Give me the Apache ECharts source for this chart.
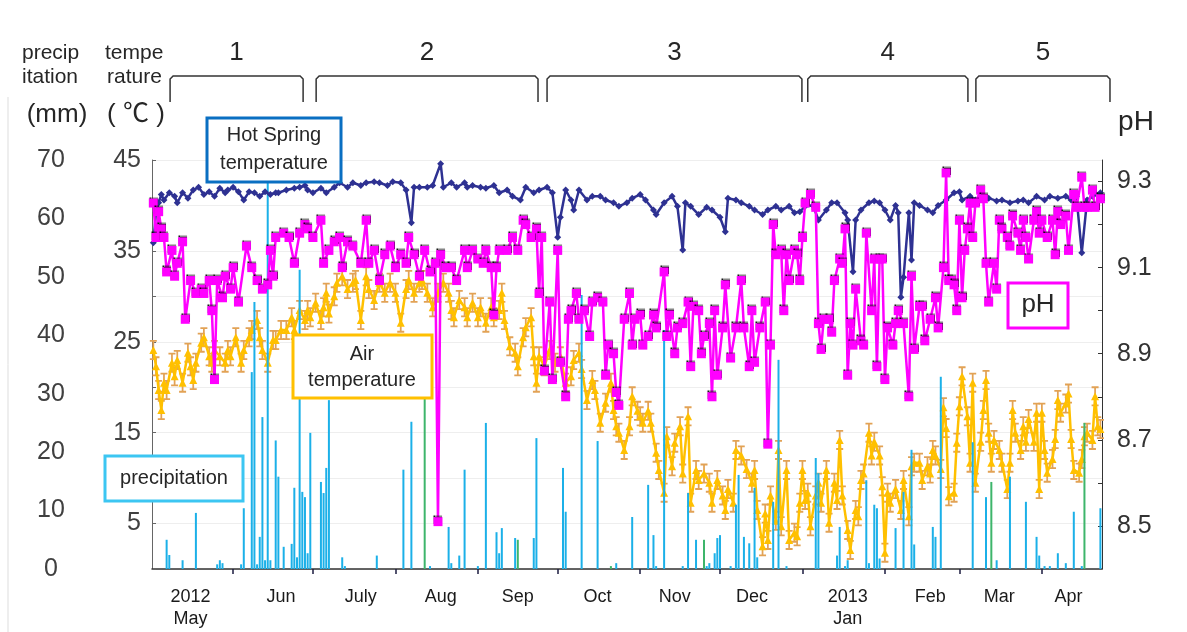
<!DOCTYPE html>
<html>
<head>
<meta charset="utf-8">
<title>Hot spring</title>
<script src="https://cdn.jsdelivr.net/npm/echarts@6/dist/echarts.min.js"></script>
<style>
  html, body { margin: 0; padding: 0; background: #fff; }
  #main { width: 1187px; height: 632px; }
</style>
</head>
<body>
<div id="main"></div>
<script>
// day index: 0 = 1 May 2012 (31 = 1 Jun 2012)
var monthStartDays = [31, 61, 92, 123, 153, 184, 214, 245, 276, 304, 335];
var monthLabelDays = [15, 49, 79, 109, 138, 168, 197, 226, 262, 293, 319, 345];
var monthLabels = ['2012\nMay', 'Jun', 'July', 'Aug', 'Sep', 'Oct', 'Nov', 'Dec', '2013\nJan', 'Feb', 'Mar', 'Apr'];

var periodNames = ['1', '2', '3', '4', '5'];
var periodRanges = [[7.3, 57.3], [62.2, 145.6], [149, 244.8], [247, 307.2], [310.2, 360.6]];

var phTicks = [8.5, 8.6, 8.7, 8.8, 8.9, 9.0, 9.1, 9.2, 9.3];
var phLabels = [8.5, 8.7, 8.9, 9.1, 9.3];

// hot spring temperature (°C)
var hotSpringTemp = [[1,35.9],[2,39.2],[3,40.3],[4,41.2],[5,40.6],[7,41.4],[9,41.0],[10,40.3],[12,41.4],[14,40.8],[16,41.7],[18,42.0],[20,41.2],[22,41.5],[24,41.0],[26,41.9],[28,41.4],[29,41.7],[31,42.0],[33,41.5],[35,40.6],[37,41.5],[39,41.4],[41,41.0],[43,41.5],[45,41.2],[47,41.4],[48,41.4],[51,41.7],[54,41.9],[56,42.0],[58,42.2],[59,41.7],[61,41.4],[64,41.9],[66,41.4],[69,42.0],[71,42.5],[74,42.0],[76,42.5],[79,42.2],[81,42.5],[84,42.6],[86,42.5],[89,42.2],[91,42.6],[94,42.5],[96,41.7],[98,38.1],[99,42.0],[101,42.0],[104,42.0],[106,42.2],[109,44.6],[110,42.0],[113,42.5],[115,42.0],[118,42.5],[119,42.0],[121,42.2],[124,42.0],[126,41.9],[129,42.2],[131,41.4],[134,41.7],[136,41.0],[139,40.6],[141,42.0],[144,41.4],[146,41.7],[149,42.0],[151,41.4],[153,36.5],[154,38.7],[156,41.7],[158,40.6],[159,39.5],[161,41.7],[164,40.6],[166,41.0],[169,41.0],[171,40.6],[174,40.3],[176,39.9],[179,40.3],[181,40.8],[184,41.2],[186,40.6],[189,39.5],[190,39.0],[193,40.3],[196,41.0],[198,39.9],[200,35.1],[201,40.3],[203,39.9],[206,39.0],[209,39.8],[211,39.5],[214,38.7],[216,37.1],[217,40.8],[220,40.6],[222,40.3],[225,39.9],[227,39.5],[230,39.0],[232,39.5],[235,39.9],[237,39.5],[240,39.9],[242,39.2],[244,39.3],[246,39.9],[249,40.0],[251,38.4],[254,39.5],[256,40.3],[258,40.3],[261,39.2],[262,38.4],[264,32.7],[265,38.4],[267,39.5],[270,40.3],[272,40.5],[274,40.3],[276,39.5],[278,38.4],[280,40.0],[281,39.2],[282,29.9],[283,32.1],[285,39.2],[286,34.0],[287,40.3],[289,40.0],[292,39.5],[294,39.2],[296,40.0],[299,40.6],[302,41.4],[304,41.5],[305,40.6],[308,41.0],[310,40.6],[313,41.0],[315,40.8],[318,40.5],[320,40.6],[323,40.3],[326,40.5],[328,40.6],[330,40.3],[333,41.0],[336,40.6],[338,41.0],[341,40.8],[344,41.0],[346,40.6],[348,41.0],[350,34.8],[352,40.6],[354,41.0],[357,41.4]];

// air temperature (°C) and its error half-width
var airTemp = [[1,24.1],[2,22.3],[3,19.7],[4,17.5],[5,20.5],[6,19.7],[8,22.7],[9,21.2],[10,23.0],[12,20.5],[14,23.8],[15,22.3],[16,20.8],[17,22.7],[19,24.9],[20,25.5],[22,23.4],[23,22.7],[24,24.1],[26,23.4],[28,22.7],[29,24.1],[30,23.4],[32,25.5],[34,22.7],[35,24.1],[37,25.5],[38,26.3],[40,27.4],[41,25.5],[42,24.1],[44,22.7],[46,25.2],[47,25.2],[49,26.3],[51,26.3],[53,27.7],[54,26.3],[56,28.5],[58,27.4],[59,28.5],[60,27.7],[62,29.3],[64,27.4],[65,28.8],[66,30.4],[67,28.1],[69,30.0],[70,31.5],[72,32.2],[74,30.8],[76,31.5],[77,31.8],[79,27.4],[81,32.2],[82,30.8],[84,29.6],[86,31.5],[88,30.4],[90,31.5],[92,30.4],[94,27.1],[96,30.8],[97,31.8],[99,30.4],[101,31.5],[102,31.8],[104,30.4],[106,28.8],[108,30.4],[110,31.5],[112,30.4],[113,28.5],[114,27.7],[116,29.6],[118,28.8],[119,27.7],[121,29.3],[123,27.7],[124,28.8],[126,27.1],[128,28.8],[129,27.7],[131,28.5],[132,30.4],[133,27.4],[135,24.5],[137,23.8],[138,22.3],[140,25.5],[141,26.6],[143,27.7],[144,23.4],[145,20.5],[146,23.4],[148,22.3],[150,24.1],[152,22.7],[154,23.4],[156,20.5],[158,21.2],[159,23.0],[161,23.8],[162,22.0],[164,18.6],[166,20.8],[167,19.7],[169,16.1],[171,18.3],[173,20.5],[174,17.5],[175,15.7],[176,15.0],[178,13.1],[180,15.7],[181,19.0],[183,17.4],[184,16.8],[185,16.1],[187,17.4],[188,16.1],[190,12.8],[191,10.9],[193,8.4],[194,14.6],[196,11.3],[197,13.9],[199,15.7],[200,10.5],[202,16.8],[203,7.3],[205,10.9],[206,9.8],[208,10.5],[210,9.5],[211,7.3],[213,9.8],[215,8.1],[216,6.5],[217,8.8],[219,7.3],[220,13.1],[222,12.5],[224,11.0],[226,9.5],[227,10.9],[228,6.5],[230,2.5],[231,6.1],[232,3.2],[233,8.1],[235,5.3],[236,13.1],[237,4.7],[239,10.9],[240,3.2],[242,4.0],[243,3.6],[244,7.3],[245,10.9],[246,7.6],[247,8.4],[248,4.7],[250,8.1],[251,9.5],[252,7.3],[254,10.9],[255,5.1],[257,9.5],[258,7.6],[259,14.2],[260,8.1],[262,4.3],[263,2.1],[265,6.5],[266,5.8],[267,9.8],[268,10.5],[270,15.0],[271,12.5],[272,14.0],[274,12.5],[275,9.1],[276,1.8],[277,8.4],[278,7.3],[280,8.8],[282,6.5],[283,9.8],[285,5.8],[286,11.3],[287,11.7],[289,11.7],[290,9.8],[292,11.3],[293,10.5],[294,13.1],[295,12.5],[297,11.0],[298,17.8],[299,15.5],[300,8.0],[302,8.4],[303,13.9],[304,17.9],[305,21.2],[307,16.8],[308,11.7],[309,20.5],[310,9.5],[312,14.0],[313,17.5],[314,20.8],[315,15.0],[316,11.7],[317,14.2],[319,13.1],[320,11.7],[322,8.8],[323,11.7],[324,17.5],[325,15.0],[327,13.1],[328,15.7],[329,14.0],[330,16.5],[332,14.0],[333,17.2],[334,8.8],[335,17.2],[336,13.1],[337,10.6],[339,12.1],[340,14.3],[341,18.6],[342,17.2],[344,18.2],[345,19.3],[346,14.3],[347,10.9],[349,10.6],[350,12.1],[351,14.6],[352,15.0],[354,14.2],[355,19.0],[356,15.7],[357,15.4]];

// pH
var phValues = [[1,9.25],[2,9.17],[3,9.23],[4,9.19],[5,9.17],[6,9.09],[8,9.14],[9,9.08],[10,9.11],[12,9.16],[13,8.98],[15,9.07],[17,9.04],[19,9.05],[20,9.04],[22,9.07],[23,9.00],[24,8.84],[25,9.07],[27,9.03],[28,9.08],[30,9.05],[31,9.10],[33,9.02],[36,9.15],[38,9.10],[40,9.07],[42,9.05],[44,9.06],[45,9.14],[46,9.08],[47,9.17],[50,9.18],[52,9.17],[54,9.11],[56,9.18],[58,9.20],[59,9.19],[61,9.17],[64,9.21],[65,9.11],[67,9.14],[69,9.16],[71,9.17],[72,9.10],[74,9.16],[76,9.15],[79,9.11],[81,9.21],[82,9.11],[84,9.14],[86,9.07],[88,9.13],[90,9.15],[92,9.10],[94,9.13],[96,9.11],[97,9.17],[99,9.13],[101,9.08],[103,9.14],[105,9.09],[107,9.11],[108,8.51],[109,9.13],[111,9.10],[113,9.10],[115,9.07],[118,9.14],[119,9.10],[121,9.14],[123,9.12],[125,9.11],[126,9.14],[128,9.10],[129,8.99],[130,9.10],[131,9.14],[134,9.14],[136,9.17],[138,9.14],[140,9.21],[141,9.20],[143,9.17],[145,9.19],[146,9.04],[147,9.17],[148,8.86],[150,9.02],[151,8.84],[153,9.14],[154,8.88],[156,8.80],[157,8.98],[158,9.00],[160,9.04],[161,8.98],[163,9.00],[165,8.94],[166,9.02],[168,9.03],[170,9.02],[171,8.85],[172,8.92],[174,8.90],[175,8.81],[176,8.78],[178,8.98],[180,9.04],[181,8.92],[182,8.98],[184,8.99],[185,8.92],[187,8.94],[189,8.99],[190,8.96],[193,9.09],[194,8.94],[195,8.99],[197,8.90],[198,8.96],[200,8.97],[202,9.02],[203,8.87],[204,9.01],[206,9.00],[207,8.90],[208,8.94],[210,8.97],[211,8.80],[212,9.00],[213,8.85],[215,8.96],[216,9.06],[218,8.89],[220,8.96],[222,9.07],[223,8.96],[225,8.87],[226,9.00],[227,8.88],[229,8.96],[231,9.02],[232,8.69],[233,8.92],[234,9.20],[235,9.13],[237,9.14],[238,9.00],[239,9.13],[240,9.07],[242,9.14],[243,9.13],[244,9.07],[245,9.17],[246,9.25],[248,9.27],[250,9.24],[251,8.97],[252,8.91],[253,8.98],[255,8.98],[256,8.95],[257,9.07],[259,9.12],[260,9.11],[261,9.19],[262,8.85],[263,8.97],[264,8.92],[265,9.05],[267,8.93],[268,8.92],[269,9.18],[271,9.00],[272,9.12],[273,8.87],[274,9.12],[275,9.12],[276,8.84],[277,8.96],[279,8.92],[280,8.97],[281,9.00],[283,8.97],[285,8.80],[286,9.08],[287,8.91],[289,9.01],[290,9.01],[291,8.93],[293,8.98],[295,9.03],[296,8.96],[298,9.10],[299,9.32],[300,9.07],[301,9.07],[302,9.06],[303,9.00],[304,9.21],[305,9.03],[306,9.14],[307,9.19],[308,9.25],[309,9.17],[310,9.25],[312,9.28],[313,9.26],[314,9.11],[315,9.02],[317,9.11],[318,9.05],[319,9.21],[320,9.19],[322,9.17],[323,9.15],[324,9.22],[326,9.18],[327,9.14],[328,9.21],[329,9.17],[330,9.12],[332,9.21],[333,9.23],[334,9.18],[335,9.21],[337,9.17],[339,9.21],[340,9.13],[341,9.23],[342,9.20],[344,9.22],[345,9.14],[347,9.27],[348,9.24],[350,9.31],[351,9.24],[352,9.24],[354,9.28],[355,9.24],[357,9.26]];

// precipitation (mm)
var precipBlue = [[6,5.0],[7,2.4],[12,1.5],[17,9.6],[25,0.8],[26,1.5],[27,1.0],[34,0.8],[35,10.4],[38,33.7],[39,45.7],[40,0.8],[41,5.5],[42,26.0],[43,1.5],[44,70],[45,1.5],[47,22.0],[48,15.8],[50,3.8],[53,4.3],[54,13.9],[55,2.0],[56,51.2],[57,13.2],[58,12.3],[59,2.7],[60,23.3],[64,14.9],[65,13.0],[66,17.3],[67,28.9],[72,2.0],[73,0.5],[85,2.3],[95,17.0],[98,25.2],[105,0.5],[112,7.2],[113,1.0],[116,2.3],[118,17.0],[123,0.5],[126,25.0],[130,6.3],[131,2.7],[132,7.0],[137,5.3],[144,5.3],[145,22.4],[155,17.3],[156,9.8],[162,46.9],[168,21.9],[175,1.0],[181,8.9],[187,14.4],[189,5.8],[190,0.5],[193,40.9],[200,0.5],[202,13.0],[205,5.0],[209,0.5],[210,1.0],[212,2.7],[213,5.3],[214,5.8],[218,0.5],[220,11.0],[221,16.1],[223,5.5],[225,4.4],[227,13.9],[228,2.0],[234,11.5],[236,35.8],[239,0.5],[250,19.0],[251,16.4],[258,2.3],[259,7.2],[261,0.5],[262,1.5],[269,15.2],[270,1.0],[272,11.0],[273,10.4],[274,1.8],[280,7.0],[283,13.2],[286,20.4],[287,4.2],[294,7.2],[295,5.5],[297,32.9],[309,21.7],[314,12.3],[318,1.5],[323,15.8],[329,11.5],[333,5.5],[334,2.3],[336,0.5],[338,0.5],[341,2.7],[344,1.0],[347,9.8],[350,0.5],[357,10.4]];
var precipGreen = [[103,30.0],[138,5.0],[173,0.5],[208,5.0],[316,14.9],[351,25.0]];

var airTempErr = 1.1;

var FONT = '"Liberation Sans", Arial, sans-serif';
var myChart = echarts.init(document.getElementById('main'));

var option = {
  animation: false,
  backgroundColor: '#fff',
  grid: { left: 152, right: 85, top: 160, bottom: 63, outerBoundsMode: 'none' },
  xAxis: {
    type: 'value',
    min: 0.5,
    max: 357.6,
    axisLine: { lineStyle: { color: '#333', width: 1.5 } },
    axisTick: { customValues: monthStartDays, length: 5, lineStyle: { color: '#1c1c40', width: 1.5 } },
    axisLabel: {
      customValues: monthLabelDays,
      margin: 17,
      fontSize: 18,
      lineHeight: 22,
      color: '#1a1a1a',
      fontFamily: FONT,
      formatter: function (v) {
        for (var i = 0; i < monthLabelDays.length; i++) {
          if (Math.abs(monthLabelDays[i] - v) < 0.01) return monthLabels[i];
        }
        return '';
      }
    },
    splitLine: { show: false }
  },
  yAxis: [
    { // precipitation
      type: 'value', position: 'left', offset: 90,
      min: 0, max: 70, interval: 10,
      axisLine: { show: false }, axisTick: { show: false }, splitLine: { show: false },
      axisLabel: { margin: 11, align: 'center', fontSize: 25, color: '#404040', fontFamily: FONT }
    },
    { // temperature
      type: 'value', position: 'left',
      min: 0, max: 45, interval: 5,
      axisLine: { show: true, lineStyle: { color: '#666', width: 1 } },
      axisTick: { show: true, inside: true, length: 4, lineStyle: { color: '#666' } },
      splitLine: { show: true, lineStyle: { color: '#eeeeee', width: 1 } },
      axisLabel: {
        margin: 11, fontSize: 25, color: '#404040', fontFamily: FONT,
        formatter: function (v) { return (Math.round(v) % 10 === 5) ? String(v) : ''; }
      }
    },
    { // pH
      type: 'value', position: 'right',
      min: 8.4, max: 9.35,
      axisLine: { show: true, lineStyle: { color: '#333', width: 1 } },
      axisTick: { show: true, inside: true, length: 4, customValues: phTicks, lineStyle: { color: '#333' } },
      splitLine: { show: false },
      axisLabel: {
        customValues: phLabels, margin: 15, fontSize: 25, color: '#333', fontFamily: FONT,
        formatter: function (v) { return v.toFixed(1); }
      }
    }
  ],
  series: [
    {
      name: 'Air temperature error', type: 'line', yAxisIndex: 1, z: 2,
      data: airTemp,
      lineStyle: { opacity: 0 },
      symbol: 'path://M0,0H8V2H5V20H8V22H0V20H3V2H0Z',
      symbolSize: [7, airTempErr * 2 * 9.09],
      itemStyle: { color: '#E2A255' }
    },
    {
      name: 'Air temperature', type: 'line', yAxisIndex: 1, z: 3,
      data: airTemp,
      symbol: 'triangle', symbolSize: 8,
      lineStyle: { color: '#FFC000', width: 2.5 },
      itemStyle: { color: '#FFC000' }
    },
    {
      name: 'precipitation', type: 'bar', yAxisIndex: 0, z: 4,
      data: precipBlue, barWidth: 2, barGap: '-100%',
      itemStyle: { color: '#1BB0E8' }
    },
    {
      name: 'precipitation (green)', type: 'bar', yAxisIndex: 0, z: 4,
      data: precipGreen, barWidth: 2, barGap: '-100%',
      itemStyle: { color: '#3DB56B' }
    },
    {
      name: 'Hot Spring temperature', type: 'line', yAxisIndex: 1, z: 5,
      data: hotSpringTemp,
      symbol: 'diamond', symbolSize: 7,
      lineStyle: { color: '#2E3192', width: 2.5 },
      itemStyle: { color: '#2E3192' }
    },
    {
      name: 'pH', type: 'line', yAxisIndex: 2, z: 6,
      data: phValues,
      symbol: 'rect', symbolSize: 9,
      lineStyle: { color: '#FF00FF', width: 2.5 },
      itemStyle: { color: '#FF00FF', shadowColor: '#000', shadowOffsetY: -2, shadowBlur: 1 }
    }
  ]
};
myChart.setOption(option);

// annotations: header texts, label boxes, period brackets
function txt(s, x, y, size, align, family) {
  return {
    type: 'text', x: x, y: y, z: 100,
    style: { text: s, fontSize: size, fontFamily: family || FONT, fill: '#262626',
             align: align || 'center', verticalAlign: 'middle' }
  };
}
function box(x, y, w, h, color) {
  return {
    type: 'rect', z: 99,
    shape: { x: x, y: y, width: w, height: h },
    style: { fill: '#fff', stroke: color, lineWidth: 3 }
  };
}

function buildGraphics() {
  var g = [
    { type: 'line', z: 100, shape: { x1: 8, y1: 97, x2: 8, y2: 632 }, style: { stroke: '#dddddd', lineWidth: 1 } },
    txt('precip', 22, 53, 21, 'left'),
    txt('itation', 22, 77, 21, 'left'),
    txt('tempe', 105, 53, 21, 'left'),
    txt('rature', 107, 77, 21, 'left'),
    txt('(mm)', 57, 115, 26),
    txt('( ℃ )', 136, 115, 26, 'center', '"Liberation Sans", "Noto Sans CJK JP", sans-serif'),
    txt('pH', 1136, 122, 28),
    box(207, 118, 134, 64, '#0A6FC2'),
    txt('Hot Spring', 274, 135, 20),
    txt('temperature', 274, 163, 20),
    box(293, 335, 139, 63, '#FFC000'),
    txt('Air', 362, 354, 20),
    txt('temperature', 362, 380, 20),
    box(105, 456, 138, 45, '#3CC6F2'),
    txt('precipitation', 174, 478, 20),
    box(1008, 283, 60, 45, '#FF00FF'),
    txt('pH', 1038, 305, 26)
  ];
  var yTop = 76, yBot = 102;
  for (var i = 0; i < periodRanges.length; i++) {
    var xa = myChart.convertToPixel({ xAxisIndex: 0 }, periodRanges[i][0]);
    var xb = myChart.convertToPixel({ xAxisIndex: 0 }, periodRanges[i][1]);
    g.push({
      type: 'polyline', z: 100,
      shape: { points: [[xa, yBot], [xa, yTop + 3], [xa + 3, yTop], [xb - 3, yTop], [xb, yTop + 3], [xb, yBot]] },
      style: { fill: 'none', stroke: '#333', lineWidth: 1.5 }
    });
    g.push(txt(periodNames[i], (xa + xb) / 2, 53, 26));
  }
  return g;
}

myChart.setOption({ graphic: buildGraphics() });
</script>
</body>
</html>
